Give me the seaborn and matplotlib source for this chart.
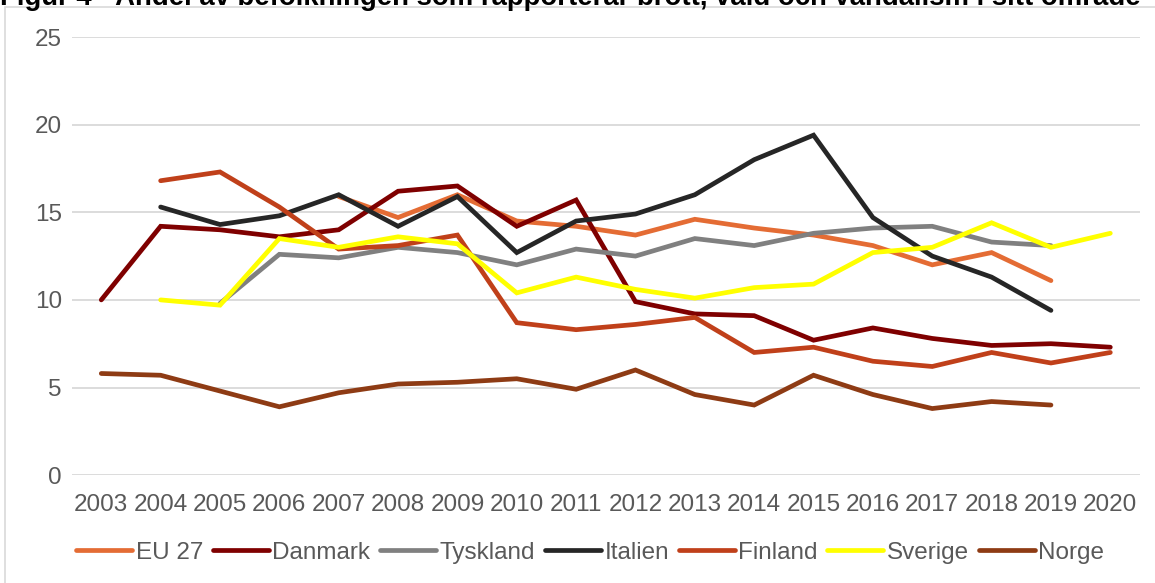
import pandas as pd
import numpy as np
import seaborn as sns
import matplotlib
matplotlib.use('Agg')
import matplotlib.pyplot as plt
from matplotlib.patches import Rectangle

# data
years = list(range(2003, 2021))
nan = np.nan
eu27 = [nan, nan, nan, nan, 15.9, 14.7, 16.0, 14.5, 14.2, 13.7, 14.6, 14.1, 13.7, 13.1, 12.0, 12.7, 11.1, nan]
danmark = [10.0, 14.2, 14.0, 13.6, 14.0, 16.2, 16.5, 14.2, 15.7, 9.9, 9.2, 9.1, 7.7, 8.4, 7.8, 7.4, 7.5, 7.3]
tyskland = [nan, nan, 9.8, 12.6, 12.4, 13.0, 12.7, 12.0, 12.9, 12.5, 13.5, 13.1, 13.8, 14.1, 14.2, 13.3, 13.1, nan]
italien = [nan, 15.3, 14.3, 14.8, 16.0, 14.2, 15.9, 12.7, 14.5, 14.9, 16.0, 18.0, 19.4, 14.7, 12.5, 11.3, 9.4, nan]
finland = [nan, 16.8, 17.3, 15.3, 12.9, 13.1, 13.7, 8.7, 8.3, 8.6, 9.0, 7.0, 7.3, 6.5, 6.2, 7.0, 6.4, 7.0]
sverige = [nan, 10.0, 9.7, 13.5, 13.0, 13.6, 13.2, 10.4, 11.3, 10.6, 10.1, 10.7, 10.9, 12.7, 13.0, 14.4, 13.0, 13.8]
norge = [5.8, 5.7, 4.8, 3.9, 4.7, 5.2, 5.3, 5.5, 4.9, 6.0, 4.6, 4.0, 5.7, 4.6, 3.8, 4.2, 4.0, nan]

series = ['EU 27', 'Danmark', 'Tyskland', 'Italien', 'Finland', 'Sverige', 'Norge']
colors = ['#E46C34', '#7F0000', '#808080', '#262626', '#C0401A', '#FFFF00', '#8E3B14']

df = pd.DataFrame({'År': years, 'EU 27': eu27, 'Danmark': danmark, 'Tyskland': tyskland,
                   'Italien': italien, 'Finland': finland, 'Sverige': sverige, 'Norge': norge})
long = df.melt(id_vars='År', var_name='Land', value_name='Andel').dropna()

sns.set_style('white')
plt.rcParams['font.family'] = ['Liberation Sans', 'DejaVu Sans']

fig = plt.figure(figsize=(11.55, 5.83), dpi=100)
ax = fig.add_axes([0.062, 0.185, 0.925, 0.7515])

sns.lineplot(data=long, x='År', y='Andel', hue='Land', hue_order=series,
             palette=colors, linewidth=3.4, ax=ax, legend=False,
             solid_capstyle='round', solid_joinstyle='miter')

ax.set_xlim(2002.5, 2020.5)
ax.set_ylim(0, 25)
ax.set_xticks(years)
ax.set_yticks([0, 5, 10, 15, 20, 25])
ax.set_xlabel('')
ax.set_ylabel('')
ax.yaxis.grid(True, color='#D9D9D9', linewidth=1.3)
ax.set_axisbelow(True)
for s in ax.spines.values():
    s.set_visible(False)
ax.tick_params(axis='both', length=0, labelsize=17.5, labelcolor='#595959')
ax.tick_params(axis='x', pad=13.5)
ax.tick_params(axis='y', pad=7)

# legend
handles = [plt.Line2D([0], [0], color=c, lw=3.4, solid_capstyle='round') for c in colors]
fig.legend(handles, series, loc='center', bbox_to_anchor=(0.511, 0.0515), ncol=7,
           frameon=False, fontsize=17.5, labelcolor='#595959', handlelength=2.3,
           handletextpad=0.15, columnspacing=0.4)

# outer frame and clipped title
fig.patches.append(Rectangle((0.004, -0.1), 1.2, 1.088, transform=fig.transFigure,
                             fill=False, edgecolor='#D9D9D9', linewidth=1.2))
fig.text(0.0, 0.9914, 'Figur 4 - Andel av befolkningen som rapporterar brott, våld och vandalism i sitt område',
         fontsize=19.8, fontweight='bold', color='black', ha='left', va='baseline')

fig.savefig('out.png', dpi=100)
